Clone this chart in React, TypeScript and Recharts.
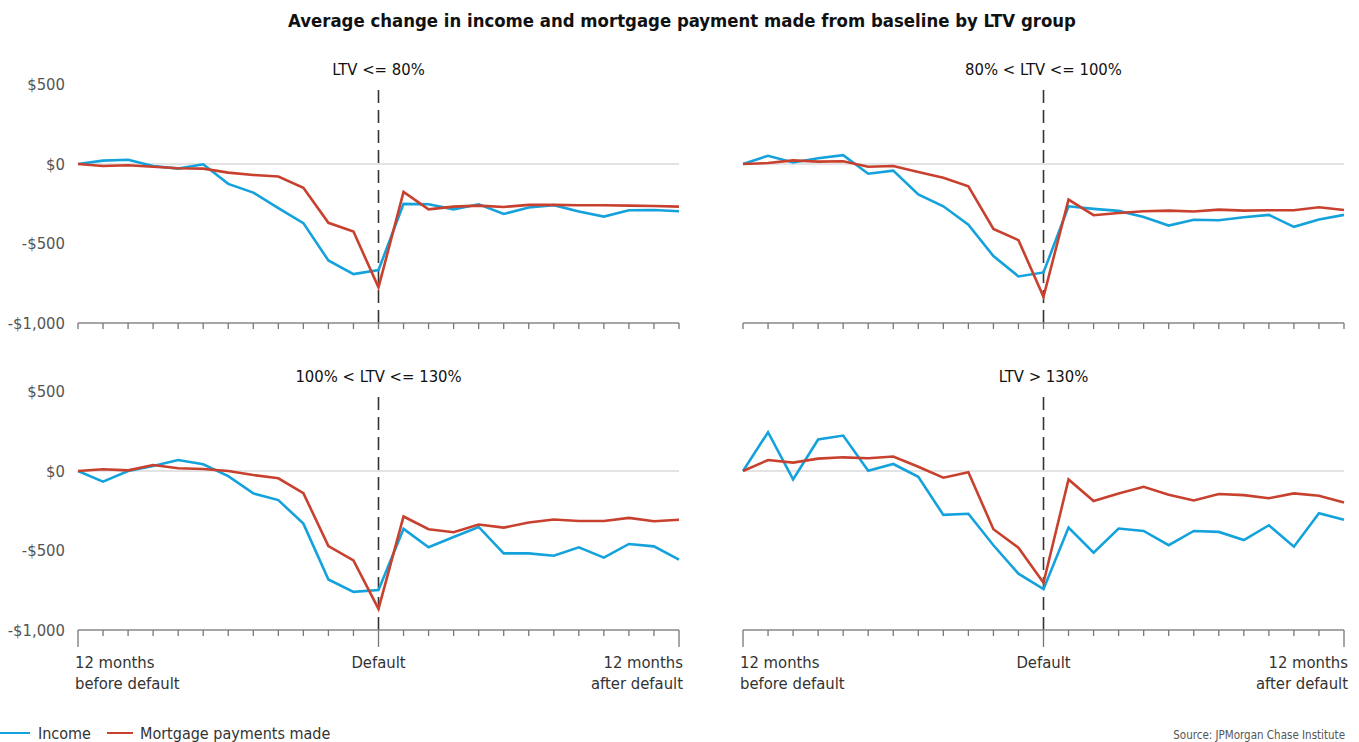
import React from "react";
import { LineChart, Line, XAxis, YAxis, ReferenceLine } from "recharts";

const months = [-12, -11, -10, -9, -8, -7, -6, -5, -4, -3, -2, -1, 0, 1, 2, 3, 4, 5, 6, 7, 8, 9, 10, 11, 12];
const yTicks = [-1000, -500, 0, 500];

const income80 = [0, 21, 27, -13, -29, -2, -125, -180, -278, -372, -607, -692, -667, -251, -253, -285, -253, -314, -274, -259, -299, -331, -291, -289, -297];
const mortgage80 = [0, -13, -8, -17, -27, -29, -54, -69, -79, -149, -370, -425, -776, -176, -285, -268, -262, -270, -257, -257, -259, -259, -262, -264, -268];

const income100 = [0, 52, 10, 36, 56, -61, -42, -192, -266, -381, -579, -707, -682, -266, -282, -295, -333, -387, -351, -354, -335, -320, -395, -349, -320];
const mortgage100 = [0, 6, 23, 15, 17, -17, -13, -50, -86, -140, -408, -479, -835, -224, -322, -308, -297, -293, -299, -287, -293, -291, -291, -272, -289];

const income130 = [0, -67, 0, 32, 69, 42, -32, -141, -183, -331, -682, -760, -749, -364, -480, -415, -352, -518, -518, -533, -480, -545, -459, -474, -558];
const mortgage130 = [0, 11, 4, 38, 17, 13, 0, -25, -46, -139, -472, -562, -867, -286, -366, -385, -337, -356, -324, -305, -314, -314, -295, -316, -307];

const incomeOver130 = [0, 244, -53, 198, 223, 2, 44, -36, -276, -269, -467, -646, -743, -356, -514, -362, -377, -467, -377, -383, -434, -341, -476, -265, -307];
const mortgageOver130 = [0, 69, 53, 78, 86, 80, 91, 27, -42, -8, -366, -482, -703, -53, -189, -141, -99, -149, -185, -145, -152, -171, -141, -156, -198];

const FONT = "'Liberation Sans Narrow', 'DejaVu Sans Condensed', 'Roboto', sans-serif";
const BLUE = "#14a2dc";
const RED = "#c8412e";

const fmtY = (v: number) =>
  v < 0 ? `-$${Math.abs(v).toLocaleString("en-US")}` : `$${v.toLocaleString("en-US")}`;

function XTick(props: any) {
  const { x, y, payload, showLabels } = props;
  const v = payload.value;
  const major = showLabels && (v === -12 || v === 0 || v === 12);
  return (
    <g>
      <line x1={x} x2={x} y1={y} y2={y + (major ? 17 : 6)} stroke="#777" strokeWidth={1.3} />
      {showLabels && v === -12 && (
        <text x={x - 3} y={y + 38} textAnchor="start" fontSize={16.5} fill="#333" fontFamily={FONT}>
          <tspan x={x - 3}>12 months</tspan>
          <tspan x={x - 3} dy={21}>before default</tspan>
        </text>
      )}
      {showLabels && v === 0 && (
        <text x={x} y={y + 38} textAnchor="middle" fontSize={16.5} fill="#333" fontFamily={FONT}>
          Default
        </text>
      )}
      {showLabels && v === 12 && (
        <text x={x + 4} y={y + 38} textAnchor="end" fontSize={16.5} fill="#333" fontFamily={FONT}>
          <tspan x={x + 4}>12 months</tspan>
          <tspan x={x + 4} dy={21}>after default</tspan>
        </text>
      )}
    </g>
  );
}

type PanelProps = {
  left: number;
  top: number;
  title: string;
  income: number[];
  mortgage: number[];
  showY: boolean;
  bottom: boolean;
};

function Panel({ left, top, title, income, mortgage, showY, bottom }: PanelProps) {
  const data = months.map((m, i) => ({ m, income: income[i], mortgage: mortgage[i] }));
  const height = bottom ? 340 : 290;
  return (
    <div style={{ position: "absolute", left, top, width: 700, height }}>
      <div
        style={{
          position: "absolute",
          left: 78,
          width: 601,
          top: 0,
          textAlign: "center",
          fontSize: 16.5,
          color: "#111",
          fontFamily: FONT,
          lineHeight: "20px",
        }}
      >
        {title}
      </div>
      <LineChart
        width={700}
        height={height}
        data={data}
        margin={{ top: 24.5, right: 21, left: 8, bottom: 7 }}
      >
        <XAxis
          dataKey="m"
          type="number"
          domain={[-12, 12]}
          ticks={months}
          interval={0}
          height={bottom ? 70 : 20}
          axisLine={{ stroke: "#888", strokeWidth: 1.5 }}
          tickLine={false}
          tickSize={0}
          tickMargin={0}
          tick={(p: any) => <XTick {...p} showLabels={bottom} />}
        />
        <YAxis
          type="number"
          domain={[-1000, 500]}
          ticks={yTicks}
          width={70}
          axisLine={false}
          tickLine={false}
          tickSize={0}
          tickMargin={13}
          tickFormatter={fmtY}
          tick={showY ? { fill: "#555", fontSize: 16.5, fontFamily: FONT } : false}
        />
        <ReferenceLine y={0} stroke="#c8c8c8" strokeWidth={1.2} />
        <ReferenceLine x={0} stroke="#333" strokeWidth={1.6} strokeDasharray="13 7" />
        <Line
          type="linear"
          dataKey="income"
          stroke={BLUE}
          strokeWidth={2.6}
          dot={false}
          isAnimationActive={false}
        />
        <Line
          type="linear"
          dataKey="mortgage"
          stroke={RED}
          strokeWidth={2.6}
          dot={false}
          isAnimationActive={false}
        />
      </LineChart>
    </div>
  );
}

export default function App() {
  return (
    <div
      style={{
        position: "absolute",
        left: 0,
        top: 0,
        width: 1359,
        height: 742,
        background: "#fff",
        fontFamily: FONT,
        overflow: "hidden",
      }}
    >
      <div
        style={{
          position: "absolute",
          left: 0,
          width: 1364,
          top: 9,
          textAlign: "center",
          fontSize: 18.4,
          fontWeight: "bold",
          color: "#111",
          lineHeight: "24px",
        }}
      >
        Average change in income and mortgage payment made from baseline by LTV group
      </div>
      <Panel left={0} top={60} title="LTV <= 80%" income={income80} mortgage={mortgage80} showY bottom={false} />
      <Panel left={665} top={60} title="80% < LTV <= 100%" income={income100} mortgage={mortgage100} showY={false} bottom={false} />
      <Panel left={0} top={367} title="100% < LTV <= 130%" income={income130} mortgage={mortgage130} showY bottom />
      <Panel left={665} top={367} title="LTV > 130%" income={incomeOver130} mortgage={mortgageOver130} showY={false} bottom />
      <div style={{ position: "absolute", left: 0, top: 723, height: 20, display: "flex", alignItems: "center", fontSize: 16, color: "#333" }}>
        <span style={{ display: "inline-block", width: 30, height: 2.6, background: BLUE, marginRight: 8 }} />
        <span style={{ marginRight: 16 }}>Income</span>
        <span style={{ display: "inline-block", width: 26, height: 2.6, background: RED, marginRight: 7 }} />
        <span>Mortgage payments made</span>
      </div>
      <div style={{ position: "absolute", right: 14, top: 729, fontSize: 11.5, color: "#555", lineHeight: "13px" }}>
        Source: JPMorgan Chase Institute
      </div>
    </div>
  );
}
